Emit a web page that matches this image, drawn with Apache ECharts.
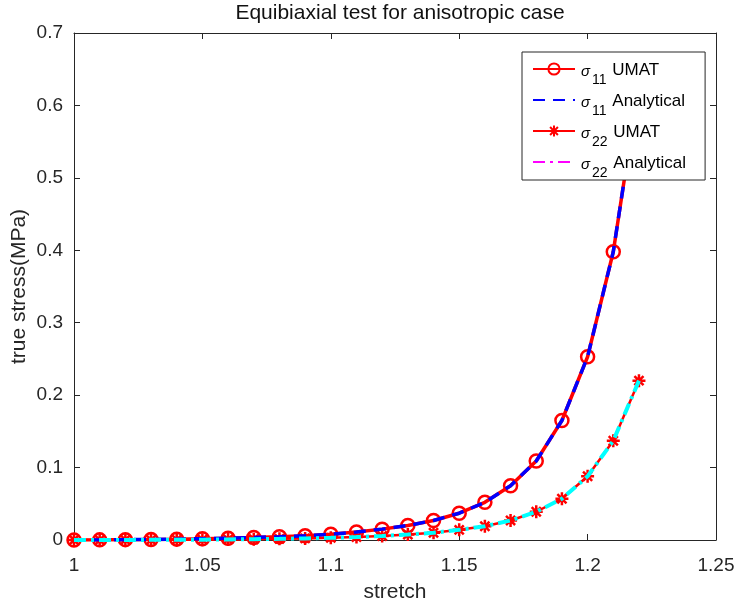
<!DOCTYPE html>
<html><head><meta charset="utf-8">
<script src="https://cdn.jsdelivr.net/npm/echarts@6/dist/echarts.min.js"></script>
<style>html,body{margin:0;padding:0;background:#fff}#c{width:738px;height:606px}</style>
</head><body><div id="c"></div>
<script>
var stretch = [1.00,1.01,1.02,1.03,1.04,1.05,1.06,1.07,1.08,1.09,1.10,1.11,1.12,1.13,1.14,1.15,1.16,1.17,1.18,1.19,1.20,1.21,1.22];
var s11Umat = [0,0.0002,0.0005,0.0008,0.0012,0.0018,0.0025,0.0035,0.0045,0.006,0.008,0.011,0.015,0.020,0.027,0.037,0.052,0.075,0.109,0.165,0.253,0.398,0.63];
var s11Analytical = [0,0.0002,0.0005,0.0008,0.0012,0.0018,0.0025,0.0035,0.0045,0.006,0.008,0.011,0.015,0.020,0.027,0.037,0.052,0.075,0.109,0.165,0.253,0.398,0.63];
var s22Umat = [0,0.00005,0.0001,0.0002,0.0003,0.0005,0.0008,0.0011,0.0016,0.0022,0.003,0.004,0.0055,0.0075,0.010,0.014,0.019,0.027,0.039,0.057,0.088,0.137,0.22];
var s22Analytical = [0,0.00005,0.0001,0.0002,0.0003,0.0005,0.0008,0.0011,0.0016,0.0022,0.003,0.004,0.0055,0.0075,0.010,0.014,0.019,0.027,0.039,0.057,0.088,0.137,0.22];
var labels = {s11u:'{s|σ}{sub|11}{t| UMAT}', s11a:'{s|σ}{sub|11}{t| Analytical}', s22u:'{s|σ}{sub|22}{t| UMAT}', s22a:'{s|σ}{sub|22}{t| Analytical}'};
function pairs(xs, ys){ return xs.map(function(x,i){return [x, ys[i]];}); }
var FONT = 'Liberation Sans, Arial, Helvetica, sans-serif';
var TXT = '#262626';
var asterisk = 'path://M0,-10L0,10M-10,0L10,0M-7,-7L7,7M-7,7L7,-7';
var chart = echarts.init(document.getElementById('c'), null, {renderer:'canvas'});
var axCommon = {axisLine:{show:true, onZero:false, lineStyle:{color:TXT, width:1}}, axisTick:{show:true, inside:true, length:6, lineStyle:{color:TXT}}, splitLine:{show:false}};
chart.setOption({
  animation:false,
  backgroundColor:'#fff',
  textStyle:{fontFamily:FONT},
  title:{text:'Equibiaxial test for anisotropic case', left:395, textAlign:'center', top:-2, textStyle:{fontFamily:FONT, fontSize:21, fontWeight:'normal', color:'#111'}},
  grid:{left:74, right:22, top:33, bottom:66, containLabel:false, outerBoundsMode:'none'},
  xAxis:[
    Object.assign({type:'value', min:1, max:1.25, interval:0.05, position:'bottom', name:'stretch', nameLocation:'middle', nameGap:42, nameMoveOverlap:false,
      nameTextStyle:{fontFamily:FONT, fontSize:21, color:TXT},
      axisLabel:{fontFamily:FONT, fontSize:19, color:TXT, margin:16, formatter:function(v){return String(+v.toFixed(2));}}}, axCommon),
    Object.assign({type:'value', min:1, max:1.25, interval:0.05, position:'top', axisLabel:{show:false}}, axCommon)
  ],
  yAxis:[
    Object.assign({type:'value', min:0, max:0.7, interval:0.1, position:'left', name:'true stress(MPa)', nameLocation:'middle', nameGap:44, nameMoveOverlap:false,
      nameTextStyle:{fontFamily:FONT, fontSize:21, color:TXT},
      axisLabel:{fontFamily:FONT, fontSize:19, color:TXT, margin:11, formatter:function(v){return String(+v.toFixed(1));}}}, axCommon),
    Object.assign({type:'value', min:0, max:0.7, interval:0.1, position:'right', axisLabel:{show:false}}, axCommon)
  ],
  legend:{
    orient:'vertical', left:522, top:52, backgroundColor:'#fff', borderColor:TXT, borderWidth:1,
    padding:[7,19,0,10], itemGap:3, itemWidth:42, itemHeight:14,
    data:[{name:'s11u'},{name:'s11a', itemStyle:{opacity:0}},{name:'s22u'},{name:'s22a', itemStyle:{color:'#ff00ff', opacity:0}, lineStyle:{color:'#ff00ff'}}],
    formatter:function(n){return labels[n];},
    textStyle:{fontFamily:FONT, fontSize:17, color:'#000',
      rich:{s:{fontFamily:FONT, fontStyle:'italic', fontSize:15, lineHeight:20, color:'#000', verticalAlign:'top', padding:[5,0,0,1]},
            sub:{fontFamily:FONT, fontSize:14, lineHeight:10, color:'#000', padding:[14,1,0,2], verticalAlign:'top'},
            t:{fontFamily:FONT, fontSize:17, lineHeight:20, color:'#000', verticalAlign:'top', padding:[3,0,0,0]}}}
  },
  series:[
    {name:'s11u', type:'line', data:pairs(stretch, s11Umat), symbol:'circle', symbolSize:13, showAllSymbol:true,
      lineStyle:{color:'#ff0000', width:3.5}, itemStyle:{color:'rgba(255,255,255,0)', borderColor:'#ff0000', borderWidth:2.5}, z:2},
    {name:'s11a', type:'line', data:pairs(stretch, s11Analytical), symbol:'none',
      lineStyle:{color:'#0000ff', width:3.5, type:[12,8]}, itemStyle:{color:'#0000ff'}, z:3},
    {name:'s22u', type:'line', data:pairs(stretch, s22Umat), symbol:asterisk, symbolSize:13, showAllSymbol:true,
      lineStyle:{color:'#ff0000', width:2.5}, itemStyle:{color:'none', borderColor:'#ff0000', borderWidth:2.5}, z:2},
    {name:'s22a', type:'line', data:pairs(stretch, s22Analytical), symbol:'none',
      lineStyle:{color:'#00ffff', width:4, type:[12,5,3,5]}, itemStyle:{color:'#00ffff'}, z:3}
  ]
});
</script></body></html>
